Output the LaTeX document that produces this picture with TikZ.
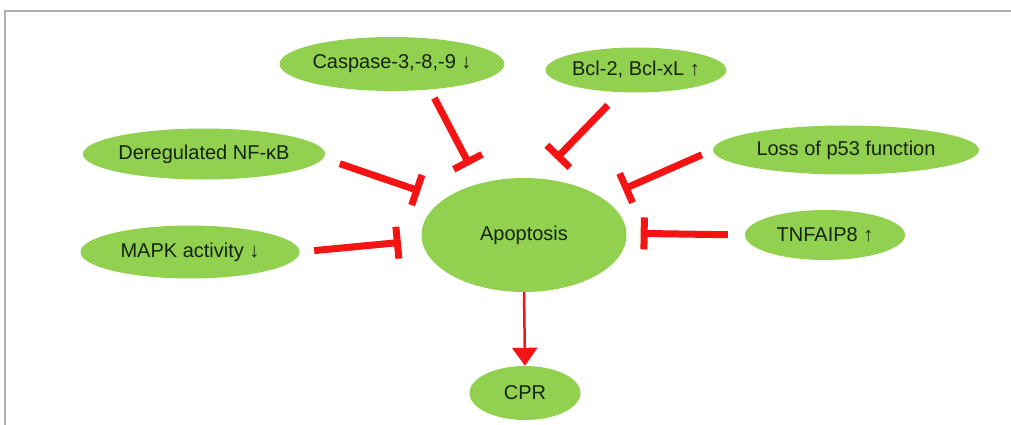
\documentclass[tikz,border=0pt]{standalone}
\usepackage{fontspec}
\setmainfont{Liberation Sans}
\usetikzlibrary{shapes.geometric,arrows.meta,positioning}
\definecolor{leaf}{RGB}{146,208,80}
\definecolor{ink}{RGB}{20,35,15}
\definecolor{inhred}{RGB}{245,20,20}
\definecolor{framegray}{RGB}{175,175,175}
\tikzset{
	factor/.style={ellipse,fill=leaf,text=ink,inner sep=0pt,font=\fontsize{20}{24}\selectfont},
	inhib/.style={draw=inhred,line width=7pt,-{Bar[width=32pt]}},
	promote/.style={draw=inhred,line width=2.5pt,-{Triangle[width=25pt,length=18pt]}}
}

\begin{document}
\begin{tikzpicture}[x=1pt,y=-1pt]
\useasboundingbox (0,0) rectangle (1011,425);
\draw[framegray,line width=2pt] (1011,11) -- (5,11) -- (5,425);

\node[factor,minimum width=205pt,minimum height=114pt] (apop) at (524,235) {Apoptosis};
\node[factor,minimum width=181pt,minimum height=54pt] (casp) at (392,64) {Caspase-3,-8,-9 ↓};
\node[factor,minimum width=163pt,minimum height=45pt] (bcl) at (636,70) {Bcl-2, Bcl-xL ↑};
\node[factor,minimum width=242pt,minimum height=51pt] (nfkb) at (204,154) {Deregulated NF-κB};
\node[factor,minimum width=219pt,minimum height=53pt] (mapk) at (190,252) {MAPK activity ↓};
\node[factor,minimum width=266pt,minimum height=49pt] (p53) at (846,150) {Loss of p53 function};
\node[factor,minimum width=160pt,minimum height=50pt] (tnf) at (825,235) {TNFAIP8 ↑};
\node[factor,minimum width=111pt,minimum height=54pt] (cpr) at (525,393) {CPR};

\path[every edge/.style={inhib}]
(casp.-34) edge[shorten <=9.5pt,shorten >=21pt] (apop.131)
(bcl.235) edge[shorten <=18pt,shorten >=27pt] (apop.77)
(nfkb.-2) edge[shorten <=17pt,shorten >=25pt] (apop.156)
(mapk.0) edge[shorten <=14.6pt,shorten >=21pt] (apop.183)
(p53.180) edge[shorten <=12pt,shorten >=22pt] (apop.25)
(tnf.180) edge[shorten <=17pt,shorten >=14pt] (apop.1);
\path (apop.south) edge[promote] (cpr.north);

\end{tikzpicture}
\end{document}
